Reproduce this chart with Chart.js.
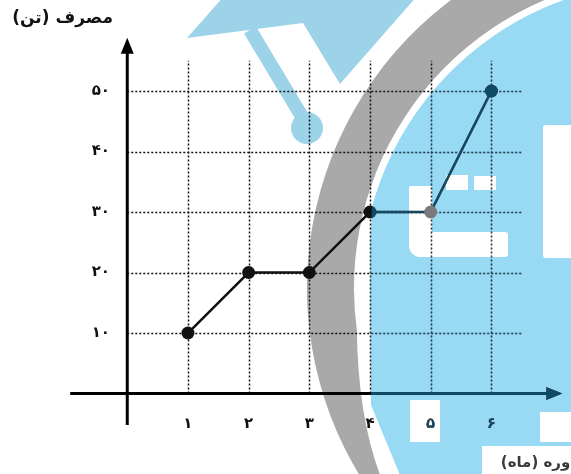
<!DOCTYPE html>
<html>
<head>
<meta charset="utf-8">
<script src="https://cdn.jsdelivr.net/npm/chart.js@4"></script>
<style>
html,body{margin:0;padding:0;background:#fff;}
#wrap{width:571px;height:474px;position:relative;}
</style>
</head>
<body>
<div id="wrap"><canvas id="c" width="571" height="474"></canvas></div>
<script>
// ---- data ----
const months = [1, 2, 3, 4, 5, 6];
const consumption = [10, 20, 20, 30, 30, 50];
const xTickLabels = ['۱', '۲', '۳', '۴', '۵', '۶'];
const yTicks = [10, 20, 30, 40, 50];
const yTickLabels = ['۱۰', '۲۰', '۳۰', '۴۰', '۵۰'];
const yAxisTitle = 'مصرف (تن)';
const xAxisTitle = 'دوره (ماه)';

// ---- watermark (background decoration) ----
const WC = {cx: 667, cy: 288};
function bluePath(ctx) {
  ctx.beginPath();
  ctx.moveTo(372, 207);
  ctx.arc(WC.cx, WC.cy, 306, Math.atan2(207 - WC.cy, 372 - WC.cx), 2.464, false);
  ctx.lineTo(402, 480);
  ctx.lineTo(371, 405);
  ctx.lineTo(370, 250);
  ctx.closePath();
}
function drawWatermark(ctx) {
  ctx.save();
  // gray ring
  ctx.beginPath();
  ctx.arc(WC.cx, WC.cy, 360, 2.579, 4.9, false);
  ctx.arc(WC.cx, WC.cy, 313, 4.9, 3.006, true);
  ctx.quadraticCurveTo(358, 420, 382, 480);
  ctx.closePath();
  ctx.fillStyle = '#a9a9a9';
  ctx.fill();
  // blue disk
  bluePath(ctx);
  ctx.fillStyle = '#98daf4';
  ctx.fill();
  // white cut-outs
  ctx.fillStyle = '#ffffff';
  ctx.beginPath(); ctx.roundRect(543, 125, 40, 133, 3); ctx.fill();
  ctx.beginPath(); ctx.roundRect(409, 186, 23, 71, [2, 2, 0, 12]); ctx.fill();
  ctx.beginPath(); ctx.roundRect(409, 232, 99, 25, [0, 3, 3, 12]); ctx.fill();
  ctx.fillRect(446, 175, 22, 15);
  ctx.fillRect(474, 176, 22, 14);
  ctx.fillRect(410, 400, 30, 42);
  ctx.fillRect(540, 412, 35, 30);
  ctx.fillRect(482, 446, 95, 34);
  // graduation cap
  ctx.fillStyle = '#9cd3e9';
  ctx.beginPath();
  ctx.moveTo(187, 38); ctx.lineTo(225, -5); ctx.lineTo(418, -5);
  ctx.lineTo(340, 84); ctx.lineTo(303, 23); ctx.closePath();
  ctx.fill();
  ctx.strokeStyle = '#9cd3e9';
  ctx.lineWidth = 14;
  ctx.beginPath(); ctx.moveTo(250, 30); ctx.lineTo(304, 120); ctx.stroke();
  ctx.beginPath(); ctx.arc(307, 128, 16, 0, Math.PI * 2); ctx.fill();
  ctx.restore();
}

const frame = {
  id: 'frame',
  beforeDraw(chart) {
    const ctx = chart.ctx;
    ctx.save();
    ctx.fillStyle = '#fff';
    ctx.fillRect(0, 0, chart.width, chart.height);
    ctx.restore();
    drawWatermark(ctx);
  },
  beforeDatasetsDraw(chart) {
    const ctx = chart.ctx, xs = chart.scales.x, ys = chart.scales.y;
    ctx.save();
    // dotted grid
    ctx.strokeStyle = '#111';
    ctx.lineWidth = 1.5;
    ctx.setLineDash([2, 2]);
    const y0 = ys.getPixelForValue(0), yTop = ys.getPixelForValue(55);
    months.forEach(m => {
      const x = Math.round(xs.getPixelForValue(m)) + 0.5;
      ctx.beginPath(); ctx.moveTo(x, y0); ctx.lineTo(x, yTop); ctx.stroke();
    });
    const x0 = xs.getPixelForValue(0), xRight = xs.getPixelForValue(6.5);
    yTicks.forEach(v => {
      const y = Math.round(ys.getPixelForValue(v)) + 0.5;
      ctx.beginPath(); ctx.moveTo(x0, y); ctx.lineTo(xRight, y); ctx.stroke();
    });
    ctx.setLineDash([]);
    // axes
    ctx.strokeStyle = '#000';
    ctx.fillStyle = '#000';
    ctx.lineWidth = 3;
    const ax = xs.getPixelForValue(0);
    ctx.beginPath(); ctx.moveTo(ax, ys.getPixelForValue(-5.2)); ctx.lineTo(ax, ys.getPixelForValue(56.5)); ctx.stroke();
    const tipY = ys.getPixelForValue(58.8);
    ctx.beginPath(); ctx.moveTo(ax, tipY); ctx.lineTo(ax - 6.5, tipY + 16); ctx.lineTo(ax + 6.5, tipY + 16); ctx.closePath(); ctx.fill();
    const ay = ys.getPixelForValue(0);
    ctx.beginPath(); ctx.moveTo(xs.getPixelForValue(-0.94), ay); ctx.lineTo(xs.getPixelForValue(6.95), ay); ctx.stroke();
    const tipX = xs.getPixelForValue(7.17);
    ctx.beginPath(); ctx.moveTo(tipX, ay); ctx.lineTo(tipX - 16, ay - 6.5); ctx.lineTo(tipX - 16, ay + 6.5); ctx.closePath(); ctx.fill();
    ctx.restore();
  },
  afterDatasetsDraw(chart) {
    const ctx = chart.ctx, xs = chart.scales.x, ys = chart.scales.y;
    // labels
    ctx.save();
    ctx.fillStyle = '#111';
    ctx.font = 'bold 15px "DejaVu Sans"';
    ctx.textBaseline = 'middle';
    ctx.textAlign = 'right';
    yTicks.forEach((v, i) => {
      ctx.fillText(yTickLabels[i], 110, ys.getPixelForValue(v));
    });
    ctx.textAlign = 'center';
    months.forEach((m, i) => {
      ctx.fillText(xTickLabels[i], xs.getPixelForValue(m), 424);
    });
    ctx.restore();
    // tint over the blue mark
    ctx.save();
    ctx.globalCompositeOperation = 'lighten';
    bluePath(ctx);
    ctx.fillStyle = 'rgb(14,74,102)';
    ctx.fill();
    ctx.restore();
    // titles
    ctx.save();
    ctx.direction = 'rtl';
    ctx.textAlign = 'right';
    ctx.textBaseline = 'middle';
    ctx.fillStyle = '#111';
    ctx.font = 'bold 17px "DejaVu Sans"';
    ctx.fillText(yAxisTitle, 113, 19);
    ctx.fillStyle = '#3a3a3a';
    ctx.font = 'bold 15px "DejaVu Sans"';
    ctx.fillText(xAxisTitle, 578, 463);
    ctx.restore();
  }
};

new Chart(document.getElementById('c'), {
  type: 'line',
  data: {
    datasets: [{
      data: months.map((m, i) => ({x: m, y: consumption[i]})),
      borderColor: '#111',
      borderWidth: 2.5,
      pointRadius: 6.5,
      pointBackgroundColor: ['#111', '#111', '#111', '#111', '#7a7a7a', '#111'],
      pointBorderWidth: 0,
      tension: 0
    }]
  },
  options: {
    responsive: false,
    animation: false,
    layout: {padding: 0},
    plugins: {legend: {display: false}, tooltip: {enabled: false}},
    scales: {
      x: {type: 'linear', display: false, min: -1.990, max: 7.205},
      y: {type: 'linear', display: false, min: -12.23, max: 63.97}
    }
  },
  plugins: [frame]
});
</script>
</body>
</html>
